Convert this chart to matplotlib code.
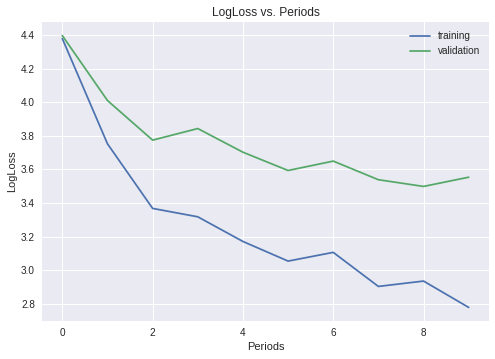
import matplotlib
matplotlib.use("Agg")
import matplotlib.pyplot as plt

periods = list(range(10))
training = [4.380, 3.753, 3.368, 3.318, 3.171, 3.054, 3.106, 2.903, 2.935, 2.778]
validation = [4.398, 4.011, 3.775, 3.844, 3.703, 3.594, 3.650, 3.539, 3.499, 3.554]

plt.style.use("seaborn-v0_8")
plt.rcParams["font.family"] = ["Liberation Sans", "DejaVu Sans"]

fig = plt.figure(figsize=(495 / 72, 359 / 72), dpi=72)
ax = fig.add_axes([42 / 495, 38 / 359, 447 / 495, 299 / 359])

ax.plot(periods, training, label="training")
ax.plot(periods, validation, label="validation")
ax.set_title("LogLoss vs. Periods")
ax.set_xlabel("Periods")
ax.set_ylabel("LogLoss")
ax.legend()

fig.savefig("out.png", dpi=72)
